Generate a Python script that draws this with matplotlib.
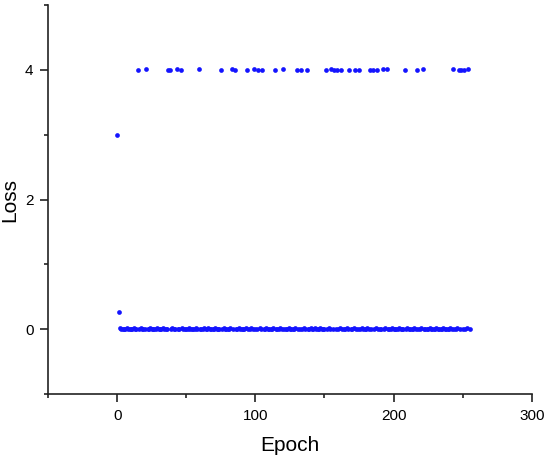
import matplotlib
matplotlib.use("Agg")
import matplotlib.pyplot as plt
from matplotlib.ticker import MultipleLocator

plt.rcParams['font.family'] = ['Liberation Sans', 'DejaVu Sans']

# Epoch index 0..255
epochs = list(range(256))

# Loss values, 16 per row
loss = [
    3.00, 0.26, 0.02, 0.01, 0.01, 0.00, 0.01, 0.02, 0.01, 0.01, 0.00, 0.01, 0.02, 0.01, 0.01, 4.00,   # 0-15
    0.01, 0.02, 0.01, 0.00, 0.01, 4.02, 0.01, 0.01, 0.02, 0.01, 0.00, 0.01, 0.01, 0.02, 0.01, 0.01,   # 16-31
    0.01, 0.02, 0.01, 0.00, 0.01, 4.00, 4.00, 0.01, 0.02, 0.01, 0.01, 4.01, 0.00, 0.01, 4.00, 0.02,   # 32-47
    0.01, 0.01, 0.00, 0.01, 0.02, 0.01, 0.01, 0.00, 0.01, 0.02, 0.01, 4.02, 0.01, 0.00, 0.01, 0.02,   # 48-63
    0.01, 0.01, 0.02, 0.01, 0.00, 0.01, 0.01, 0.02, 0.01, 0.00, 0.01, 4.00, 0.01, 0.02, 0.01, 0.01,   # 64-79
    0.00, 0.01, 0.02, 4.02, 0.01, 4.00, 0.01, 0.00, 0.02, 0.01, 0.01, 0.00, 0.01, 0.02, 4.00, 0.01,   # 80-95
    0.01, 0.02, 0.00, 4.02, 0.01, 0.01, 4.00, 0.02, 0.01, 4.00, 0.00, 0.01, 0.02, 0.01, 0.01, 0.00,   # 96-111
    0.01, 0.02, 4.00, 0.01, 0.00, 0.01, 0.02, 0.01, 4.02, 0.01, 0.00, 0.01, 0.02, 0.01, 0.01, 0.00,   # 112-127
    0.01, 0.02, 4.00, 0.01, 0.01, 4.00, 0.00, 0.02, 0.01, 4.00, 0.01, 0.00, 0.02, 0.01, 0.01, 0.02,   # 128-143
    0.01, 0.00, 0.01, 0.02, 0.01, 0.01, 0.00, 4.00, 0.01, 0.02, 0.01, 4.02, 0.01, 4.00, 0.00, 4.00,   # 144-159
    0.01, 0.02, 4.00, 0.01, 0.00, 0.01, 0.02, 0.01, 4.00, 0.01, 0.00, 0.02, 4.00, 0.01, 0.01, 4.00,   # 160-175
    0.01, 0.02, 0.00, 0.01, 0.01, 0.02, 0.01, 4.00, 0.00, 4.00, 0.01, 0.02, 4.00, 0.01, 0.00, 0.01,   # 176-191
    4.02, 0.01, 0.02, 4.02, 0.01, 0.00, 0.01, 0.02, 0.01, 0.01, 0.00, 0.01, 0.02, 0.01, 0.01, 0.00,   # 192-207
    4.00, 0.01, 0.02, 0.01, 0.00, 0.01, 0.01, 0.02, 0.01, 4.00, 0.00, 0.01, 0.02, 4.02, 0.01, 0.01,   # 208-223
    0.00, 0.01, 0.02, 0.01, 0.01, 0.00, 0.01, 0.02, 0.01, 0.01, 0.00, 0.01, 0.02, 0.01, 0.01, 0.00,   # 224-239
    0.01, 0.02, 0.01, 4.02, 0.00, 0.01, 0.02, 4.00, 0.01, 4.00, 0.00, 4.00, 0.01, 0.02, 4.02, 0.01,   # 240-255
]

x_ticks = [0, 100, 200, 300]
y_ticks = [0, 2, 4]

fig = plt.figure(figsize=(5.5, 4.59), dpi=100)
ax = fig.add_axes([0.0873, 0.1416, 0.8797, 0.8474])

ax.plot(epochs, loss, linestyle='none', marker='o', ms=3.4, color='#1414ff',
        markeredgewidth=0, clip_on=False)

ax.set_xlim(-50, 300)
ax.set_ylim(-1, 5)
ax.set_xticks(x_ticks)
ax.set_yticks(y_ticks)
ax.xaxis.set_minor_locator(MultipleLocator(50))
ax.yaxis.set_minor_locator(MultipleLocator(1))

for s in ['top', 'right']:
    ax.spines[s].set_visible(False)
for s in ['left', 'bottom']:
    ax.spines[s].set_linewidth(1.2)
    ax.spines[s].set_color('#222222')

ax.tick_params(which='major', direction='out', length=5.5, width=1.2, color='#222222',
               labelsize=11, pad=5)
ax.tick_params(which='minor', direction='out', length=3, width=1.2, color='#222222')

ax.set_xlabel('Epoch', fontsize=15, labelpad=10)
ax.set_ylabel('Loss', fontsize=15, labelpad=4)

fig.savefig('out.png', dpi=100)
